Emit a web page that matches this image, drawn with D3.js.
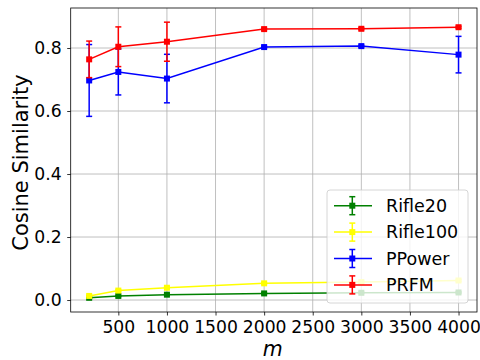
<!DOCTYPE html>
<meta charset="utf-8">
<style>
body { margin: 0; background: #fff; }
text { font-family: "DejaVu Sans", sans-serif; fill: #000; }
.grid line { stroke: #b0b0b0; stroke-width: 0.8px; }
.axis path, .axis line { stroke: #000; stroke-width: 0.8px; }
</style>
<svg width="480" height="360"></svg>
<script src="https://d3js.org/d3.v7.min.js"></script>
<script>

var mValues = [200, 500, 1000, 2000, 3000, 4000];
var xTicks = [500, 1000, 1500, 2000, 2500, 3000, 3500, 4000];
var yTicks = [0.0, 0.2, 0.4, 0.6, 0.8];

var rifle20 = [0.007, 0.013, 0.017, 0.021, 0.023, 0.024];
var rifle20Err = [0.002, 0.002, 0.002, 0.002, 0.002, 0.002];
var rifle100 = [0.013, 0.030, 0.039, 0.053, 0.057, 0.062];
var rifle100Err = [0.002, 0.003, 0.003, 0.003, 0.003, 0.003];
var ppower = [0.697, 0.724, 0.703, 0.803, 0.806, 0.779];
var ppowerErr = [0.114, 0.073, 0.077, 0.003, 0.003, 0.058];
var prfm = [0.764, 0.804, 0.820, 0.860, 0.861, 0.866];
var prfmErr = [0.058, 0.063, 0.062, 0.003, 0.003, 0.003];

var series = [
  {name: "Rifle20", color: "green", values: rifle20, err: rifle20Err},
  {name: "Rifle100", color: "yellow", values: rifle100, err: rifle100Err},
  {name: "PPower", color: "blue", values: ppower, err: ppowerErr},
  {name: "PRFM", color: "red", values: prfm, err: prfmErr}
];

var svg = d3.select("svg"),
    x0 = 70.7, x1 = 477, y0 = 8, y1 = 312;

var x = d3.scaleLinear().domain([10, 4190]).range([x0, x1]);
var y = d3.scaleLinear().domain([-0.038, 0.927]).range([y1, y0]);

// grid
var grid = svg.append("g").attr("class", "grid");
grid.selectAll(".gx").data(xTicks).enter().append("line")
    .attr("x1", d => x(d)).attr("x2", d => x(d))
    .attr("y1", y0).attr("y2", y1);
grid.selectAll(".gy").data(yTicks).enter().append("line")
    .attr("x1", x0).attr("x2", x1)
    .attr("y1", d => y(d)).attr("y2", d => y(d));

var cap = 3, ms = 6;

series.forEach(function(s) {
  var g = svg.append("g");
  var pts = mValues.map((m, i) => ({m: m, v: s.values[i], e: s.err[i]}));

  g.append("path")
      .datum(pts)
      .attr("fill", "none")
      .attr("stroke", s.color)
      .attr("stroke-width", 1.5)
      .attr("d", d3.line().x(d => x(d.m)).y(d => y(d.v)));

  var eb = g.selectAll(".eb").data(pts).enter().append("g")
      .attr("stroke", s.color).attr("stroke-width", 1.5);
  eb.append("line")
      .attr("x1", d => x(d.m)).attr("x2", d => x(d.m))
      .attr("y1", d => y(d.v - d.e)).attr("y2", d => y(d.v + d.e));
  eb.append("line")
      .attr("x1", d => x(d.m) - cap).attr("x2", d => x(d.m) + cap)
      .attr("y1", d => y(d.v + d.e)).attr("y2", d => y(d.v + d.e));
  eb.append("line")
      .attr("x1", d => x(d.m) - cap).attr("x2", d => x(d.m) + cap)
      .attr("y1", d => y(d.v - d.e)).attr("y2", d => y(d.v - d.e));

  g.selectAll("rect").data(pts).enter().append("rect")
      .attr("x", d => x(d.m) - ms / 2)
      .attr("y", d => y(d.v) - ms / 2)
      .attr("width", ms).attr("height", ms)
      .attr("fill", s.color);
});

// axes
svg.append("g").attr("class", "axis")
    .attr("transform", "translate(0," + y1 + ")")
    .call(d3.axisBottom(x).tickValues(xTicks).tickSize(3.5).tickPadding(5.5).tickFormat(d3.format("d")));
svg.append("g").attr("class", "axis")
    .attr("transform", "translate(" + x0 + ",0)")
    .call(d3.axisLeft(y).tickValues(yTicks).tickSize(3.5).tickPadding(5.5).tickFormat(d3.format(".1f")));
svg.selectAll(".axis .domain").remove();
svg.selectAll(".axis text").style("font-size", "17.2px").style("font-family", "DejaVu Sans");

svg.append("rect")
    .attr("x", x0).attr("y", y0)
    .attr("width", x1 - x0).attr("height", y1 - y0)
    .attr("fill", "none").attr("stroke", "#000").attr("stroke-width", 0.8);

svg.append("text")
    .attr("x", (x0 + x1) / 2 - 1).attr("y", 356)
    .attr("text-anchor", "middle")
    .style("font-size", "20.5px").style("font-style", "italic")
    .text("m");

svg.append("text")
    .attr("transform", "translate(27.5,162.5) rotate(-90)")
    .attr("text-anchor", "middle")
    .style("font-size", "21px")
    .text("Cosine Similarity");

// legend
var lg = svg.append("g").attr("transform", "translate(327,190)");
lg.append("rect")
    .attr("width", 141).attr("height", 113).attr("rx", 3)
    .attr("fill", "rgba(255,255,255,0.8)")
    .attr("stroke", "#cccccc").attr("stroke-width", 0.8);

var row = lg.selectAll(".row").data(series).enter().append("g")
    .attr("transform", (d, i) => "translate(0," + (15.7 + i * 26.4) + ")");
row.append("line")
    .attr("x1", 7).attr("x2", 45).attr("y1", 0).attr("y2", 0)
    .attr("stroke", d => d.color).attr("stroke-width", 1.5);
row.append("line")
    .attr("x1", 25.3).attr("x2", 25.3).attr("y1", -9).attr("y2", 9)
    .attr("stroke", d => d.color).attr("stroke-width", 1.5);
row.append("line")
    .attr("x1", 22.3).attr("x2", 28.3).attr("y1", -9).attr("y2", -9)
    .attr("stroke", d => d.color).attr("stroke-width", 1.5);
row.append("line")
    .attr("x1", 22.3).attr("x2", 28.3).attr("y1", 9).attr("y2", 9)
    .attr("stroke", d => d.color).attr("stroke-width", 1.5);
row.append("rect")
    .attr("x", 25.3 - ms / 2).attr("y", -ms / 2)
    .attr("width", ms).attr("height", ms)
    .attr("fill", d => d.color);
row.append("text")
    .attr("x", 59).attr("y", 6.3)
    .style("font-size", "17.5px")
    .text(d => d.name);

</script>
